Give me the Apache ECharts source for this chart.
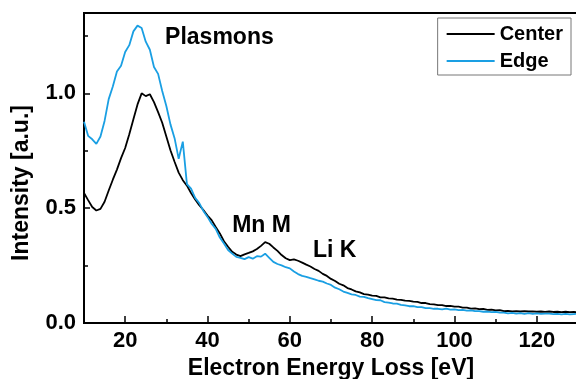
<!DOCTYPE html>
<html><head><meta charset="utf-8">
<script src="https://cdn.jsdelivr.net/npm/echarts@6/dist/echarts.min.js"></script>
<style>html,body{margin:0;padding:0;background:#fff}#c{width:576px;height:379px}</style>
</head><body><div id="c"></div>
<script>
// Energy grid (eV), 1 eV steps from 10 to 130
const energy = Array.from({length: 121}, (_, i) => 10 + i);
const center = [
0.566,0.535,0.505,0.49,0.497,0.528,0.577,0.624,0.668,0.718,
0.762,0.822,0.887,0.952,1.0,0.988,0.996,0.962,0.918,0.872,
0.812,0.752,0.702,0.655,0.622,0.598,0.566,0.538,0.513,0.492,
0.468,0.448,0.418,0.39,0.356,0.332,0.31,0.298,0.291,0.299,
0.305,0.312,0.322,0.336,0.352,0.345,0.329,0.314,0.296,0.282,
0.274,0.277,0.271,0.263,0.254,0.246,0.235,0.227,0.214,0.205,
0.192,0.183,0.171,0.164,0.152,0.146,0.138,0.133,0.126,0.124,
0.119,0.118,0.112,0.112,0.107,0.106,0.102,0.101,0.097,0.096,
0.093,0.092,0.087,0.087,0.082,0.081,0.078,0.078,0.074,0.075,
0.071,0.071,0.067,0.067,0.063,0.064,0.06,0.061,0.057,0.058,
0.055,0.056,0.052,0.053,0.051,0.052,0.05,0.052,0.05,0.051,
0.049,0.05,0.048,0.05,0.048,0.049,0.047,0.049,0.047,0.048,0.047
];
const edge = [
0.876,0.815,0.80,0.78,0.812,0.88,0.975,1.03,1.095,1.12,
1.18,1.21,1.27,1.295,1.285,1.225,1.19,1.115,1.085,1.01,
0.945,0.865,0.805,0.715,0.79,0.605,0.585,0.545,0.522,0.488,
0.462,0.432,0.41,0.372,0.346,0.318,0.302,0.288,0.284,0.278,
0.287,0.28,0.291,0.289,0.302,0.284,0.266,0.257,0.251,0.243,
0.238,0.224,0.213,0.205,0.201,0.195,0.19,0.184,0.18,0.172,
0.166,0.154,0.147,0.137,0.131,0.125,0.122,0.115,0.114,0.108,
0.104,0.1,0.099,0.091,0.089,0.085,0.084,0.079,0.077,0.073,
0.073,0.069,0.069,0.065,0.065,0.062,0.062,0.059,0.063,0.058,
0.059,0.056,0.057,0.054,0.055,0.052,0.052,0.049,0.05,0.047,
0.048,0.045,0.045,0.042,0.044,0.041,0.043,0.04,0.043,0.04,
0.042,0.04,0.041,0.041,0.039,0.04,0.038,0.04,0.038,0.039,0.04
];
const seriesNames = ['Center', 'Edge'];
const xMajorTicks = [20, 40, 60, 80, 100, 120];
const xMinorTicks = [30, 50, 70, 90, 110];
const yLabelTicks = [0, 0.5, 1.0];
const yMajorTicks = [0.5, 1.0];
const yMinorTicks = [0.25, 0.75, 1.25];
const annotationTexts = ['Plasmons', 'Mn M', 'Li K'];
const annotationX = [29.7, 46.0, 65.6];
const annotationY = [1.194, 0.375, 0.266];

const FONT = 'Liberation Sans, Arial, Helvetica, sans-serif';
const chart = echarts.init(document.getElementById('c'), null, {renderer: 'canvas'});
const baseLabel = {color: '#000', fontFamily: FONT, fontWeight: 'bold'};

const option = {
  animation: false,
  backgroundColor: '#fff',
  grid: {left: 84, width: 494, top: 13, bottom: 56, show: true, borderColor: '#000', borderWidth: 2,
         containLabel: false, outerBoundsMode: 'none'},
  legend: {
    data: seriesNames, orient: 'vertical', right: 5, top: 18,
    borderColor: '#777', borderWidth: 1, padding: [6, 8, 4, 9], itemGap: 7,
    itemWidth: 48, itemHeight: 2, icon: 'rect',
    textStyle: Object.assign({fontSize: 20, lineHeight: 20}, baseLabel)
  },
  xAxis: [
    {type: 'value', min: 10, max: 130, position: 'bottom',
     axisLine: {show: true, lineStyle: {color: '#000', width: 2}},
     axisTick: {show: true, inside: true, length: 7, customValues: xMajorTicks, lineStyle: {color: '#000', width: 1.5}},
     axisLabel: Object.assign({customValues: xMajorTicks, margin: 7, fontSize: 22}, baseLabel),
     splitLine: {show: false},
     name: 'Electron Energy Loss [eV]', nameLocation: 'middle', nameGap: 32,
     nameTextStyle: Object.assign({fontSize: 23}, baseLabel)},
    {type: 'value', min: 10, max: 130, position: 'bottom',
     axisLine: {show: false},
     axisTick: {show: true, inside: true, length: 4, customValues: xMinorTicks, lineStyle: {color: '#000', width: 1.5}},
     axisLabel: {show: false}, splitLine: {show: false}}
  ],
  yAxis: [
    {type: 'value', min: 0, max: 1.35, position: 'left',
     axisLine: {show: true, lineStyle: {color: '#000', width: 2}},
     axisTick: {show: true, inside: true, length: 6, customValues: yMajorTicks, lineStyle: {color: '#000', width: 1.5}},
     axisLabel: Object.assign({customValues: yLabelTicks, margin: 8, fontSize: 22, formatter: v => v.toFixed(1)}, baseLabel),
     splitLine: {show: false}},
    {type: 'value', min: 0, max: 1.35, position: 'left',
     axisLine: {show: false},
     axisTick: {show: true, inside: true, length: 4, customValues: yMinorTicks, lineStyle: {color: '#000', width: 1.5}},
     axisLabel: {show: false}, splitLine: {show: false}}
  ],
  series: [
    {name: seriesNames[0], type: 'line', showSymbol: false, symbol: 'none',
     data: energy.map((e, i) => [e, center[i]]),
     lineStyle: {color: '#000', width: 1.8}, itemStyle: {color: '#000'}},
    {name: seriesNames[1], type: 'line', showSymbol: false, symbol: 'none',
     data: energy.map((e, i) => [e, edge[i]]),
     lineStyle: {color: '#1a9fe3', width: 1.8}, itemStyle: {color: '#1a9fe3'}}
  ]
};
chart.setOption(option);

const graphics = [{
  type: 'text', x: 22, y: 183, rotation: Math.PI / 2,
  style: {text: 'Intensity [a.u.]', fill: '#000', font: 'bold 23px ' + FONT,
          textAlign: 'center', textVerticalAlign: 'middle', align: 'center', verticalAlign: 'middle'}
}];
annotationTexts.forEach((t, i) => {
  const p = chart.convertToPixel({xAxisIndex: 0, yAxisIndex: 0}, [annotationX[i], annotationY[i]]);
  graphics.push({type: 'text', x: p[0], y: p[1],
    style: {text: t, fill: '#000', font: 'bold 23px ' + FONT,
            textAlign: 'left', textVerticalAlign: 'bottom', align: 'left', verticalAlign: 'bottom'}});
});
chart.setOption({graphic: graphics});
</script></body></html>
